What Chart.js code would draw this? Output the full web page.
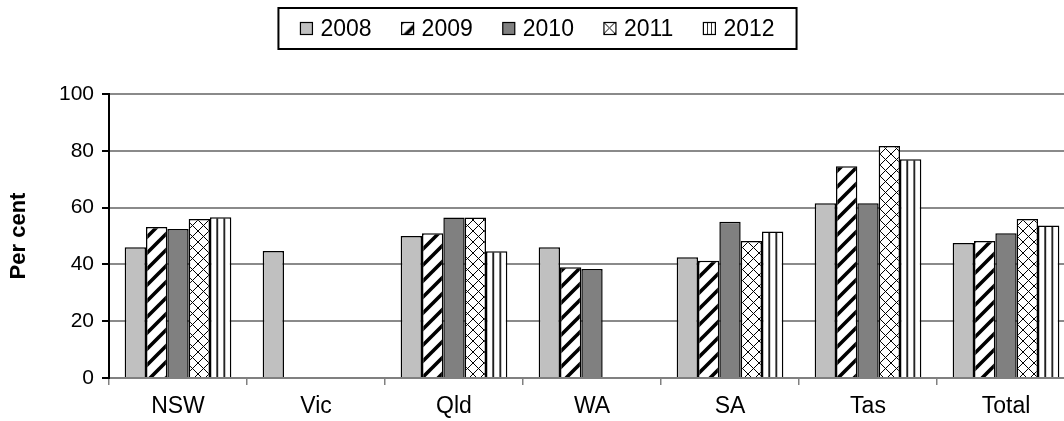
<!DOCTYPE html>
<html>
<head>
<meta charset="utf-8">
<script src="https://cdn.jsdelivr.net/npm/chart.js@4/dist/chart.umd.min.js"></script>
<style>
  html, body { margin: 0; padding: 0; background: #fff; overflow: hidden; }
  #wrap { width: 1075px; height: 421px; position: relative; }
</style>
</head>
<body>
<div id="wrap"><canvas id="c"></canvas></div>
<script>
// Categories and yearly series (per cent)
const categories = ['NSW', 'Vic', 'Qld', 'WA', 'SA', 'Tas', 'Total'];
const seriesNames = ['2008', '2009', '2010', '2011', '2012'];
const v2008 = [46, 44.7, 50, 46, 42.5, 61.5, 47.5];
const v2009 = [53.2, null, 51, 39, 41.3, 74.6, 48.2];
const v2010 = [52.5, null, 56.5, 38.4, 55, 61.5, 51];
const v2011 = [56, null, 56.5, null, 48.2, 81.7, 56];
const v2012 = [56.6, null, 44.6, null, 51.6, 77, 53.7];
const yTicks = [0, 20, 40, 60, 80, 100];

const FONT = '"Liberation Sans", Arial, sans-serif';
const CAT_PCT = 0.773;

// ---- fill patterns -------------------------------------------------------
function tile(w, h, paint) {
  const c = document.createElement('canvas');
  c.width = w; c.height = h;
  const g = c.getContext('2d');
  g.fillStyle = '#fff';
  g.fillRect(0, 0, w, h);
  paint(g);
  return c;
}
const tiles = {
  stripes: tile(16, 16, g => {
    g.strokeStyle = '#000';
    g.lineWidth = 3.6;
    g.lineCap = 'square';
    [[-8, 8, 8, -8], [0, 16, 16, 0], [8, 24, 24, 8]].forEach(([a, b, c, d]) => {
      g.beginPath(); g.moveTo(a, b); g.lineTo(c, d); g.stroke();
    });
  }),
  cross: tile(11, 11, g => {
    g.strokeStyle = '#000';
    g.lineWidth = 1;
    g.beginPath();
    g.moveTo(0, 0); g.lineTo(11, 11);
    g.moveTo(0, 11); g.lineTo(11, 0);
    g.stroke();
  }),
  vlines: tile(21, 4, g => {
    g.fillStyle = '#000';
    g.fillRect(6.3, 0, 1.6, 4);
    g.fillRect(13.3, 0, 1.6, 4);
  })
};
const scratch = document.createElement('canvas').getContext('2d');
function makePattern(kind) {
  return scratch.createPattern(tiles[kind], 'repeat');
}

// Vertical-line fill aligned to each bar so the lines split it in thirds
function vlineFill(ctx) {
  const p = makePattern('vlines');
  if (ctx.type !== 'data' || !ctx.chart.scales || !ctx.chart.scales.x) return p;
  const xs = ctx.chart.scales.x;
  const cw = xs.width / categories.length;
  const groupW = cw * CAT_PCT;
  const barW = groupW / seriesNames.length;
  const left = xs.getPixelForValue(ctx.dataIndex) - groupW / 2 + ctx.datasetIndex * barW;
  p.setTransform(new DOMMatrix().translate(left, 0).scale(barW / 21, 1));
  return p;
}

const fills = [
  '#c0c0c0',
  makePattern('stripes'),
  '#808080',
  makePattern('cross'),
  vlineFill
];
const legendKinds = ['#c0c0c0', 'stripes', '#808080', 'cross', 'vlines'];
const values = [v2008, v2009, v2010, v2011, v2012];

// ---- boxed legend across the top ----------------------------------------
const boxedLegend = {
  id: 'boxedLegend',
  afterDraw(chart) {
    const { ctx } = chart;
    ctx.save();
    ctx.font = '23px ' + FONT;
    const marker = 12, gapText = 8, gapItem = 30, padX = 22;
    const labels = chart.data.datasets.map(d => d.label);
    const widths = labels.map(t => ctx.measureText(t).width);
    const inner = widths.reduce((a, w) => a + marker + gapText + w, 0) + gapItem * (labels.length - 1);
    const boxW = inner + padX * 2;
    const boxL = chart.width / 2 - boxW / 2;
    const boxT = 8, boxH = 41;
    const midY = boxT + boxH / 2;
    ctx.lineWidth = 2;
    ctx.strokeStyle = '#000';
    ctx.strokeRect(boxL, boxT, boxW, boxH);
    let x = boxL + padX;
    labels.forEach((t, i) => {
      const k = legendKinds[i];
      let fill = k;
      if (!k.startsWith('#')) {
        fill = makePattern(k);
        const s = k === 'vlines' ? marker / 21 : 1;
        fill.setTransform(new DOMMatrix().translate(x, midY - marker / 2).scale(s, 1));
      }
      ctx.fillStyle = fill;
      ctx.fillRect(x, midY - marker / 2, marker, marker);
      ctx.lineWidth = 1.2;
      ctx.strokeStyle = '#000';
      ctx.strokeRect(x, midY - marker / 2, marker, marker);
      ctx.fillStyle = '#000';
      ctx.textBaseline = 'middle';
      ctx.textAlign = 'left';
      ctx.fillText(t, x + marker + gapText, midY + 1);
      x += marker + gapText + widths[i] + gapItem;
    });
    ctx.restore();
  }
};

new Chart(document.getElementById('c'), {
  type: 'bar',
  data: {
    labels: categories,
    datasets: seriesNames.map((name, i) => ({
      label: name,
      data: values[i],
      backgroundColor: fills[i],
      borderColor: '#000',
      borderWidth: 1.5,
      borderSkipped: 'bottom',
      categoryPercentage: CAT_PCT,
      barPercentage: 1
    }))
  },
  options: {
    responsive: true,
    maintainAspectRatio: false,
    animation: false,
    events: [],
    layout: { padding: { top: 94, right: 0, bottom: 0, left: 0 } },
    plugins: {
      legend: { display: false },
      tooltip: { enabled: false },
      title: { display: false }
    },
    scales: {
      x: {
        offset: true,
        grid: {
          offset: true,
          drawOnChartArea: false,
          drawTicks: true,
          tickLength: 7,
          color: '#808080',
          lineWidth: 1.5
        },
        border: { display: true, color: '#808080', width: 2 },
        ticks: {
          color: '#000',
          font: { family: FONT, size: 23 },
          padding: 8,
          maxRotation: 0
        },
        afterFit(s) { s.height = 43; }
      },
      y: {
        min: 0,
        max: 100,
        afterBuildTicks(s) { s.ticks = yTicks.map(v => ({ value: v })); },
        grid: {
          color: '#8a8a8a',
          lineWidth: 2,
          tickLength: 7,
          tickColor: '#000',
          drawTicks: true
        },
        border: { display: true, color: '#000', width: 2 },
        ticks: {
          color: '#000',
          font: { family: FONT, size: 21 },
          padding: 8
        },
        title: {
          display: true,
          text: 'Per cent',
          color: '#000',
          font: { family: FONT, size: 22, weight: 'bold' },
          padding: { top: 6, bottom: 0 }
        },
        afterFit(s) { s.width = 109; }
      }
    }
  },
  plugins: [boxedLegend]
});
</script>
</body>
</html>
